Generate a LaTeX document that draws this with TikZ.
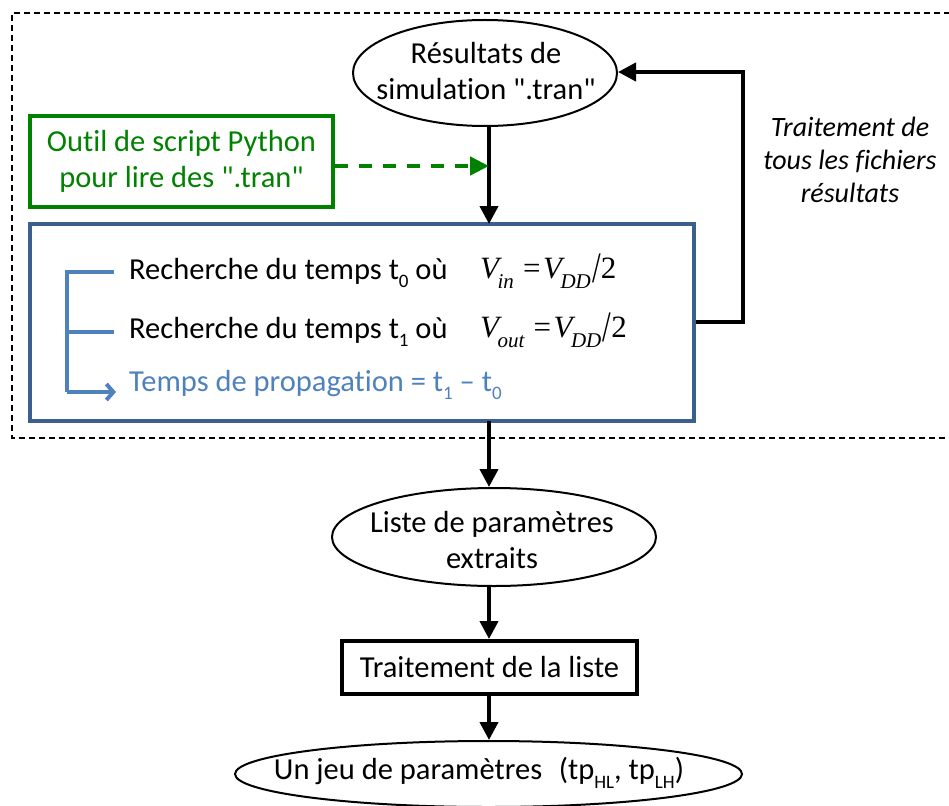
\documentclass[tikz,border=0pt]{standalone}
\usepackage{fontspec}
\setmainfont{Carlito}[Ligatures={TeXOff,NoCommon}]
\newfontfamily\timesf{Liberation Serif}
\usetikzlibrary{arrows.meta,shapes.geometric}
\definecolor{pgreen}{RGB}{0,130,0}
\definecolor{boxblue}{RGB}{60,96,142}
\definecolor{lblue}{RGB}{79,129,189}
\newcommand{\lowsub}[1]{\raisebox{-0.28em}{\fontsize{19}{19}\selectfont #1}}
\newcommand{\Vs}[1]{{\timesf\itshape V}\hspace{-0.05em}\raisebox{-0.32em}{\fontsize{21}{21}\timesf\itshape #1}}
\newcommand{\bigslash}{\hspace{0.04em}\raisebox{-0.12em}{\scalebox{1}[1.4]{/}}}
\tikzset{
  big/.style={font=\fontsize{30.5}{36}\selectfont, align=center, inner sep=0pt},
  ital/.style={font=\fontsize{28}{33}\selectfont\itshape, align=center, inner sep=0pt},
  mathtxt/.style={font=\fontsize{31}{34}\timesf, inner sep=0pt, anchor=west},
  ell/.style={draw, line width=2pt, ellipse, inner sep=0pt},
  flow/.style={line width=4pt, -{Triangle[length=18pt,width=18pt]}},
  brk/.style={draw=lblue, line width=4pt}
}
\begin{document}
\begin{tikzpicture}[x=1pt,y=-1pt]
\useasboundingbox (0,0) rectangle (949,805);
% outer dashed frame
\coordinate (fa) at (950,13);
\coordinate (fb) at (12,13);
\coordinate (fc) at (12,438);
\coordinate (fd) at (950,438);
\draw[line width=1.8pt, dash pattern=on 6pt off 4pt] (fa) -- (fb) -- (fc) -- (fd);

% top ellipse
\node[ell, minimum width=264pt, minimum height=106pt] (res) at (485,73) {};
\node[big] (resT) at (486,71) {Résultats de\\simulation ".tran"};

% green box
\node[draw=pgreen, line width=4pt, minimum width=303pt, minimum height=91pt, text=pgreen, big] (py) at (181.5,161.5) {Outil de script Python\\pour lire des ".tran"};

% blue box
\node[draw=boxblue, line width=3.5pt, minimum width=664pt, minimum height=197pt] (bb) at (362,322.5) {};
\coordinate (axis) at (489,126);
\coordinate (bbtop) at (489,224);
\coordinate (gtip) at (489,166);

\node[big, anchor=west] (l1) at (129,273) {Recherche du temps t\lowsub{0} où};
\node[mathtxt] (m1) at (480,271) {\Vs{in}\hspace{0.3em}=\hspace{0.08em}\Vs{DD}\bigslash 2};
\node[big, anchor=west] (l2) at (129,332) {Recherche du temps t\lowsub{1} où};
\node[mathtxt] (m2) at (480,330) {\Vs{out}\hspace{0.3em}=\hspace{0.08em}\Vs{DD}\bigslash 2};
\node[big, anchor=west, text=lblue] (l3) at (129,385) {Temps de propagation = t\lowsub{1} – t\lowsub{0}};

% bracket
\coordinate (b1) at (67,272);
\coordinate (b1e) at (114,272);
\coordinate (b2) at (67,332);
\coordinate (b2e) at (114,332);
\coordinate (b3) at (67,392);
\coordinate (b3e) at (116,392);
\draw[brk] (b1e) -- (b1) -- (b3);
\draw[brk] (b2) -- (b2e);
\draw[brk, -{Straight Barb[length=7pt,width=16pt]}] (b3) -- (b3e);

% connectors top
\draw[flow] (res.south -| axis) -- (bbtop);
\draw[line width=4.5pt, pgreen, dash pattern=on 13pt off 11pt, -{Triangle[length=19pt,width=18pt]}] (py.east |- gtip) -- (gtip);

% feedback loop
\coordinate (fr1) at (743,322);
\coordinate (fr2) at (743,72);
\draw[line width=4pt, -{Triangle[length=18pt,width=18pt]}] (bb.east |- fr1) -- (fr1) -- (fr2) -- (res.east |- fr2);
\node[ital] (fb) at (850,160) {Traitement de\\tous les fichiers\\résultats};

% lower part
\node[ell, minimum width=324pt, minimum height=98pt] (lst) at (494,537) {};
\node[big] (lstT) at (492,540) {Liste de paramètres\\extraits};
\node[draw, line width=4pt, big, minimum width=295pt, minimum height=53pt] (trt) at (489.5,667.5) {Traitement de la liste};
\node[ell, minimum width=507pt, minimum height=66pt] (jeu) at (488.5,774) {};
\node[big] (jeuT) at (479,773) {Un jeu de paramètres\hspace{0.55em}(tp\lowsub{HL}, tp\lowsub{LH})};

\coordinate (x1) at (489,421);
\draw[flow] (x1) -- (x1 |- lst.north);
\draw[flow] (x1 |- lst.south) -- (x1 |- trt.north);
\draw[flow] (x1 |- trt.south) -- (x1 |- jeu.north);
\end{tikzpicture}
\end{document}
